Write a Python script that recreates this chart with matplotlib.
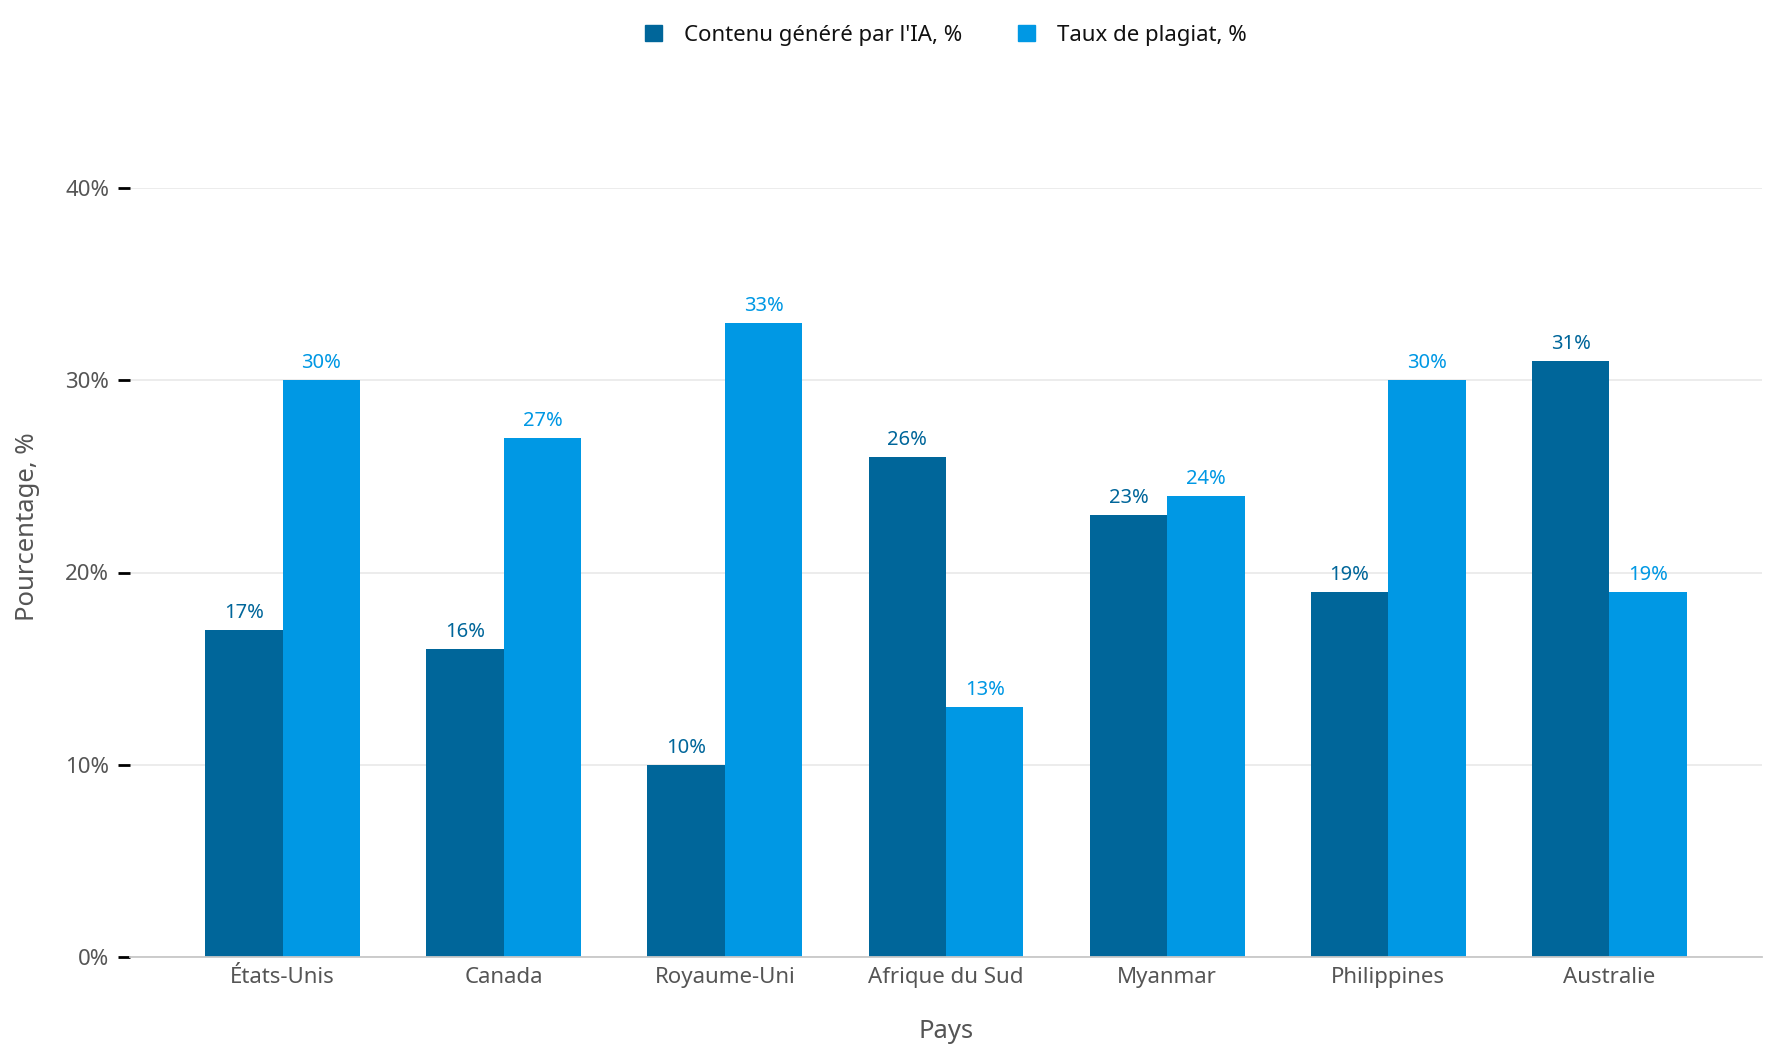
import matplotlib
matplotlib.use("Agg")
import matplotlib.pyplot as plt
import numpy as np
from matplotlib.patches import Patch

categories = ["États-Unis", "Canada", "Royaume-Uni", "Afrique du Sud", "Myanmar", "Philippines", "Australie"]
ai_content = [17, 16, 10, 26, 23, 19, 31]
plagiarism = [30, 27, 33, 13, 24, 30, 19]
series_names = ["Contenu généré par l'IA, %", "Taux de plagiat, %"]
y_ticks = [0, 10, 20, 30, 40]

plt.rcParams['font.family'] = ['Noto Sans', 'DejaVu Sans']
dark = "#00669a"
light = "#0098e4"

fig = plt.figure(figsize=(17.8, 10.6), dpi=100)
ax = fig.add_axes([130/1780, 103/1060, (1762-130)/1780, (957-188)/1060])

x = np.arange(len(categories))
w = 0.35
b1 = ax.bar(x - w/2, ai_content, width=w, color=dark)
b2 = ax.bar(x + w/2, plagiarism, width=w, color=light)

for bars, vals, c in [(b1, ai_content, dark), (b2, plagiarism, light)]:
    for r, v in zip(bars, vals):
        ax.annotate(f"{v}%", (r.get_x() + r.get_width()/2, v), xytext=(0, 5),
                    textcoords="offset points", ha="center", va="bottom",
                    fontsize=14.5, color=c)

ax.set_xlim(-0.69, 6.69)
ax.set_ylim(0, 40)
ax.set_yticks(y_ticks)
ax.set_yticklabels([f"{t}%" for t in y_ticks])
ax.set_xticks(x)
ax.set_xticklabels(categories)
ax.tick_params(axis='y', length=9, width=2, color='black', labelsize=16, labelcolor='#555555', pad=6)
ax.tick_params(axis='x', length=0, labelsize=16, labelcolor='#555555', pad=7.5)
ax.grid(axis='y', color='#ebebeb', linewidth=1.3)
ax.set_axisbelow(True)
for s in ['top', 'right', 'left']:
    ax.spines[s].set_visible(False)
ax.spines['bottom'].set_color('#c8c8c8')
ax.spines['bottom'].set_linewidth(1.3)

ax.set_xlabel("Pays", fontsize=18.5, color='#555555')
ax.set_ylabel("Pourcentage, %", fontsize=18.5, color='#555555')
ax.xaxis.label.set_va('center')
ax.yaxis.label.set_va('center')
ax.xaxis.set_label_coords(0.5, (957 - 1031) / 769)
ax.yaxis.set_label_coords((27 - 130) / 1632, (957 - 527) / 769)

handles = [Patch(color=dark), Patch(color=light)]
fig.legend(handles, series_names, loc='center', bbox_to_anchor=(946/1780, 1 - 35/1060),
           ncol=2, frameon=False, fontsize=16, handlelength=0.75, handleheight=0.75,
           handletextpad=1.0, columnspacing=2.5, labelcolor='#111111')

fig.savefig("out.png", dpi=100)
